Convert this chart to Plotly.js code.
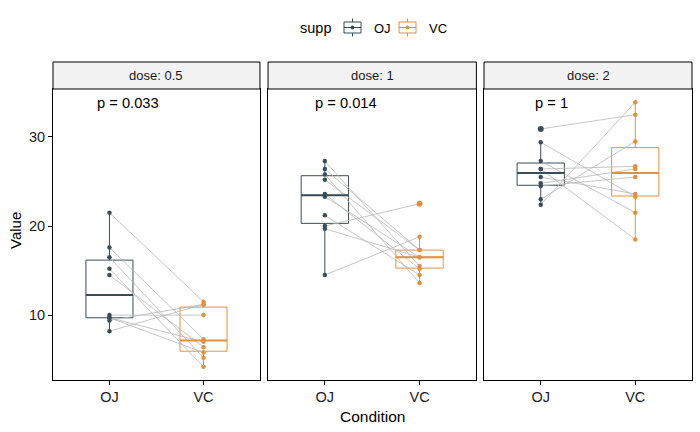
<!DOCTYPE html>
<html><head><meta charset="utf-8">
<script src="https://cdn.plot.ly/plotly-3.0.1.min.js"></script>
<style>body{margin:0;background:#fff}#chart{width:700px;height:432px}</style>
</head><body><div id="chart"></div>
<script>
const doses = ["0.5", "1", "2"];
const stripLabels = ["dose: 0.5", "dose: 1", "dose: 2"];
const categories = ["OJ", "VC"];
const ojValues = [
  [15.2, 21.5, 17.6, 9.7, 14.5, 10, 8.2, 9.4, 16.5, 9.7],
  [19.7, 23.3, 23.6, 26.4, 20, 25.2, 25.8, 21.2, 14.5, 27.3],
  [25.5, 26.4, 22.4, 24.5, 24.8, 30.9, 26.4, 27.3, 29.4, 23]
];
const vcValues = [
  [4.2, 11.5, 7.3, 5.8, 6.4, 10, 11.2, 11.2, 5.2, 7],
  [16.5, 16.5, 15.2, 17.3, 22.5, 17.3, 13.6, 14.5, 18.8, 15.5],
  [23.6, 18.5, 33.9, 25.5, 26.4, 32.5, 26.7, 21.5, 23.3, 29.5]
];
const pLabels = ["p = 0.033", "p = 0.014", "p = 1"];
const pLabelX = [0.85, 0.87, 0.92];
const pLabelY = 33.8;
const legendTitle = "supp";

const colors = {OJ: "#3A4D57", VC: "#E0913F"};
const FONT = "Liberation Sans, Arial, sans-serif";

// pixel -> paper helpers (plot area: left 53, top 89, width 639, height 291)
const PX = px => (px - 53) / 639;
const PY = py => (380 - py) / 291;

function quant(sorted, p) {
  const h = (sorted.length - 1) * p;
  const lo = Math.floor(h), hi = Math.ceil(h);
  return sorted[lo] + (h - lo) * (sorted[hi] - sorted[lo]);
}
function stats(vals) {
  const s = vals.slice().sort((a, b) => a - b);
  const q1 = quant(s, 0.25), med = quant(s, 0.5), q3 = quant(s, 0.75);
  const iqr = q3 - q1;
  const ok = v => v >= q1 - 1.5 * iqr && v <= q3 + 1.5 * iqr;
  const inside = s.filter(ok);
  return {q1, med, q3, lo: inside[0], hi: inside[inside.length - 1],
          out: s.filter(v => !ok(v)), normal: inside};
}

const traces = [];
const annotations = [];
const shapes = [];
const domains = [[0, 0.3239], [0.3365, 0.6626], [0.6745, 1]];
const layout = {
  width: 700, height: 432,
  margin: {l: 53, r: 8, t: 89, b: 52},
  paper_bgcolor: "#fff", plot_bgcolor: "#fff",
  font: {family: FONT, color: "#000"},
  showlegend: false,
  annotations, shapes
};

doses.forEach((d, i) => {
  const xa = i === 0 ? "x" : "x" + (i + 1);
  const ya = i === 0 ? "y" : "y" + (i + 1);
  const xkey = i === 0 ? "xaxis" : "xaxis" + (i + 1);
  const ykey = i === 0 ? "yaxis" : "yaxis" + (i + 1);
  layout[xkey] = {domain: domains[i], anchor: ya, range: [0.4, 2.6],
    tickvals: [1, 2], ticktext: categories, ticks: "outside", ticklen: 4,
    tickcolor: "#000", showgrid: false, zeroline: false, showline: true,
    linecolor: "#000", linewidth: 1, mirror: true,
    tickfont: {size: 14.5, color: "#1a1a1a"}, fixedrange: true};
  layout[ykey] = {domain: [0, 1], anchor: xa, range: [2.715, 35.385],
    tickvals: [10, 20, 30], ticks: i === 0 ? "outside" : "", ticklen: 4,
    tickcolor: "#000", showticklabels: i === 0, showgrid: false, zeroline: false,
    showline: true, linecolor: "#000", linewidth: 1, mirror: true,
    tickfont: {size: 14.5, color: "#1a1a1a"}, fixedrange: true};
  if (i > 0) layout[ykey].matches = "y";

  // pair lines
  ojValues[i].forEach((v, k) => {
    traces.push({type: "scatter", mode: "lines", x: [1, 2], y: [v, vcValues[i][k]],
      xaxis: xa, yaxis: ya, line: {color: "#B8B8B8", width: 0.8},
      showlegend: false, hoverinfo: "skip"});
  });

  [["OJ", ojValues[i], 1], ["VC", vcValues[i], 2]].forEach(([name, vals, xp]) => {
    const st = stats(vals);
    traces.push({type: "box", name: name, x: [xp], q1: [st.q1], median: [st.med],
      q3: [st.q3], lowerfence: [st.lo], upperfence: [st.hi], width: 0.5,
      boxpoints: false, whiskerwidth: 0, fillcolor: "rgba(255,255,255,0)",
      line: {color: colors[name], width: 1}, xaxis: xa, yaxis: ya,
      showlegend: false, hoverinfo: "skip"});
    traces.push({type: "scatter", mode: "lines", x: [xp - 0.25, xp + 0.25],
      y: [st.med, st.med], xaxis: xa, yaxis: ya,
      line: {color: colors[name], width: 2}, showlegend: false, hoverinfo: "skip"});
    traces.push({type: "scatter", mode: "markers", x: st.normal.map(() => xp),
      y: st.normal, xaxis: xa, yaxis: ya,
      marker: {color: colors[name], size: 4.5}, showlegend: false, hoverinfo: "skip"});
    if (st.out.length) {
      traces.push({type: "scatter", mode: "markers", x: st.out.map(() => xp),
        y: st.out, xaxis: xa, yaxis: ya,
        marker: {color: colors[name], size: 6}, showlegend: false, hoverinfo: "skip"});
    }
  });

  shapes.push({type: "rect", xref: xa + " domain", yref: "paper", x0: 0, x1: 1,
    y0: 1, y1: 1 + 27 / 291, fillcolor: "#F2F2F2", line: {color: "#000", width: 1}});
  annotations.push({xref: xa + " domain", yref: "paper", x: 0.5, y: 1 + 13.5 / 291,
    text: stripLabels[i], showarrow: false, xanchor: "center", yanchor: "middle",
    font: {size: 13, color: "#1a1a1a"}});
  annotations.push({xref: xa, yref: ya, x: pLabelX[i], y: pLabelY, text: pLabels[i],
    showarrow: false, xanchor: "left", yanchor: "middle",
    font: {size: 14.7, color: "#000"}});
});

// custom legend (box-plot keys like ggplot)
annotations.push({xref: "paper", yref: "paper", x: PX(298), y: PY(28), text: legendTitle,
  showarrow: false, xanchor: "left", yanchor: "middle", font: {size: 14.5, color: "#000"}});
[["OJ", 344, 372], ["VC", 399, 427]].forEach(([name, x0, tx]) => {
  const c = colors[name];
  const cx = x0 + 8.5;
  shapes.push({type: "line", xref: "paper", yref: "paper", x0: PX(cx), x1: PX(cx),
    y0: PY(18.5), y1: PY(36.5), line: {color: c, width: 1}});
  shapes.push({type: "rect", xref: "paper", yref: "paper", x0: PX(x0), x1: PX(x0 + 17),
    y0: PY(22), y1: PY(33), fillcolor: "#fff", line: {color: c, width: 1}});
  shapes.push({type: "line", xref: "paper", yref: "paper", x0: PX(x0), x1: PX(x0 + 17),
    y0: PY(27.5), y1: PY(27.5), line: {color: c, width: 1}});
  shapes.push({type: "circle", xref: "paper", yref: "paper", x0: PX(cx - 2), x1: PX(cx + 2),
    y0: PY(25.5), y1: PY(29.5), fillcolor: c, line: {color: c, width: 0}});
  annotations.push({xref: "paper", yref: "paper", x: PX(tx), y: PY(28), text: name,
    showarrow: false, xanchor: "left", yanchor: "middle", font: {size: 13, color: "#000"}});
});

annotations.push({xref: "paper", yref: "paper", x: 0.5, y: PY(416), text: "Condition",
  showarrow: false, xanchor: "center", yanchor: "middle", font: {size: 15.5, color: "#000"}});
annotations.push({xref: "paper", yref: "paper", x: PX(15), y: PY(231), text: "Value",
  textangle: -90, showarrow: false, xanchor: "center", yanchor: "middle",
  font: {size: 15, color: "#000"}});

Plotly.newPlot("chart", traces, layout, {displayModeBar: false, staticPlot: true});
</script></body></html>
